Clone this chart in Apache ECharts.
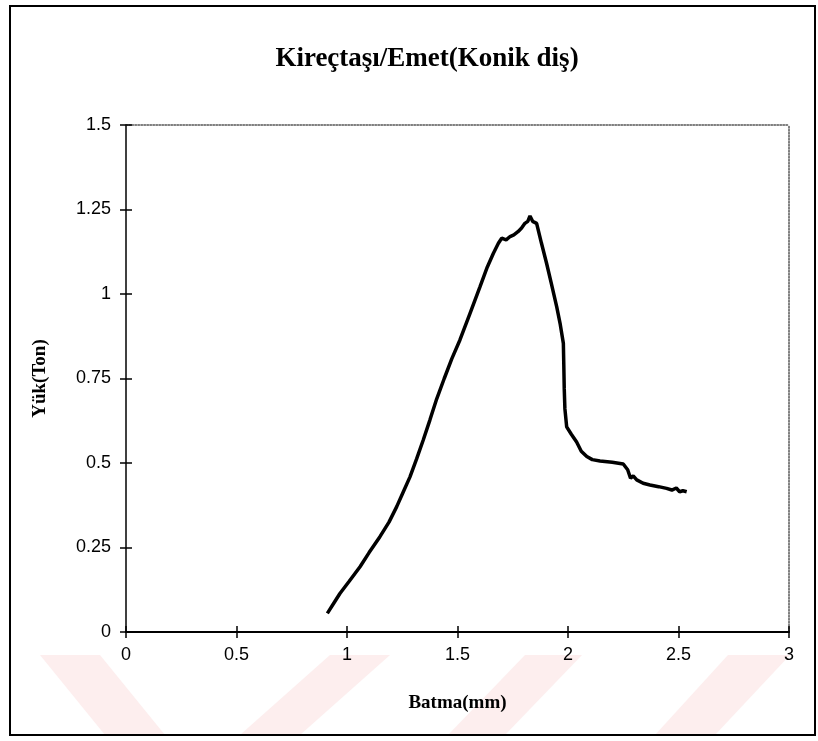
<!DOCTYPE html>
<html>
<head>
<meta charset="utf-8">
<script src="https://cdn.jsdelivr.net/npm/echarts@6/dist/echarts.min.js"></script>
<style>
  html, body { margin: 0; padding: 0; background: #fff; }
  #chart { width: 818px; height: 741px; }
</style>
</head>
<body>
<div id="chart"></div>
<script>
// penetration (mm) vs load (ton)
const batma = [
  0.911, 0.94, 0.968, 1.01, 1.059, 1.10, 1.149, 1.19, 1.225, 1.255,
  1.285, 1.315, 1.345, 1.375, 1.406, 1.44, 1.474, 1.511, 1.555, 1.602,
  1.635, 1.662, 1.685, 1.70, 1.72, 1.738, 1.755, 1.775, 1.79, 1.805,
  1.818, 1.828, 1.84, 1.858, 1.88, 1.903, 1.925, 1.949, 1.965, 1.979,
  1.981, 1.983, 1.986, 1.994, 2.015, 2.039, 2.06, 2.085, 2.11, 2.145,
  2.20, 2.25, 2.27, 2.283, 2.295, 2.311, 2.34, 2.371, 2.41, 2.446,
  2.47, 2.49, 2.505, 2.52, 2.537
];
const yuk = [
  0.055, 0.085, 0.114, 0.15, 0.193, 0.235, 0.282, 0.325, 0.371, 0.415,
  0.459, 0.512, 0.568, 0.627, 0.69, 0.75, 0.808, 0.864, 0.94, 1.022,
  1.08, 1.12, 1.15, 1.165, 1.16, 1.17, 1.175, 1.185, 1.195, 1.209,
  1.215, 1.231, 1.215, 1.209, 1.15, 1.091, 1.03, 0.962, 0.91, 0.854,
  0.79, 0.72, 0.66, 0.607, 0.585, 0.562, 0.535, 0.519, 0.51, 0.506,
  0.502, 0.497, 0.48, 0.455, 0.462, 0.45, 0.44, 0.435, 0.43, 0.425,
  0.42, 0.426, 0.415, 0.418, 0.415
];
const xTicks = [0, 0.5, 1, 1.5, 2, 2.5, 3];
const yTicks = [0, 0.25, 0.5, 0.75, 1, 1.25, 1.5];

const titleText = 'Kireçtaşı/Emet(Konik diş)';
const xName = 'Batma(mm)';
const yName = 'Yük(Ton)';

const chart = echarts.init(document.getElementById('chart'));

const gridBox = { left: 126, right: 29, top: 125, bottom: 109 };
const tickFont = { fontFamily: 'Liberation Sans', fontSize: 18, color: '#000' };
const nameFont = { fontFamily: 'Liberation Serif', fontWeight: 'bold', fontSize: 19, color: '#000' };

function fmt(v) { return String(v); }

// faint pink watermark bands at the bottom of the scan
const pink = '#fdeeee';
const bands = [
  [[40, 655], [100, 655], [165, 735], [105, 735]],
  [[330, 655], [390, 655], [300, 735], [240, 735]],
  [[525, 655], [582, 655], [505, 735], [448, 735]],
  [[728, 655], [790, 655], [715, 735], [655, 735]]
];

const option = {
  animation: false,
  backgroundColor: '#fff',
  title: {
    text: titleText,
    left: 422,
    top: 41,
    textAlign: 'center',
    textStyle: { fontFamily: 'Liberation Serif', fontWeight: 'bold', fontSize: 27, color: '#000' }
  },
  graphic: [
    ...bands.map(b => ({
      type: 'polygon', z: -10, silent: true,
      shape: { points: b },
      style: { fill: pink }
    })),
    {
      type: 'rect', z: 100, silent: true,
      shape: { x: 10, y: 6, width: 805, height: 729 },
      style: { fill: 'none', stroke: '#000', lineWidth: 2 }
    }
  ],
  grid: [
    Object.assign({}, gridBox),
    Object.assign({}, gridBox)
  ],
  xAxis: [
    {
      gridIndex: 0, type: 'value', position: 'bottom',
      min: 0, max: 3, interval: 0.5,
      name: xName, nameLocation: 'middle', nameGap: 62, nameTextStyle: nameFont,
      axisLine: { show: true, onZero: false, lineStyle: { color: '#000', width: 2 } },
      axisTick: { show: true, inside: false, length: 6, lineStyle: { color: '#000', width: 1.5 } },
      axisLabel: Object.assign({ margin: 14, formatter: fmt }, tickFont),
      splitLine: { show: false }
    },
    {
      gridIndex: 0, type: 'value', position: 'top',
      min: 0, max: 3, interval: 0.5,
      axisLine: { show: true, onZero: false, lineStyle: { color: '#555', width: 1.5, type: 'dotted' } },
      axisTick: { show: false }, axisLabel: { show: false }, splitLine: { show: false }
    },
    {
      gridIndex: 1, type: 'value', position: 'bottom',
      min: 0, max: 3, interval: 0.5,
      axisLine: { show: false, onZero: false },
      axisTick: { show: true, inside: true, length: 6, lineStyle: { color: '#000', width: 1.5 } },
      axisLabel: { show: false }, splitLine: { show: false }
    }
  ],
  yAxis: [
    {
      gridIndex: 0, type: 'value', position: 'left',
      min: 0, max: 1.5, interval: 0.25,
      name: yName, nameLocation: 'middle', nameGap: 76, nameTextStyle: nameFont,
      axisLine: { show: true, onZero: false, lineStyle: { color: '#000', width: 1.5 } },
      axisTick: { show: true, inside: false, length: 6, lineStyle: { color: '#000', width: 1.5 } },
      axisLabel: Object.assign({ margin: 15, formatter: fmt }, tickFont),
      splitLine: { show: false }
    },
    {
      gridIndex: 0, type: 'value', position: 'right',
      min: 0, max: 1.5, interval: 0.25,
      axisLine: { show: true, onZero: false, lineStyle: { color: '#555', width: 1.5, type: 'dotted' } },
      axisTick: { show: false }, axisLabel: { show: false }, splitLine: { show: false }
    },
    {
      gridIndex: 1, type: 'value', position: 'left',
      min: 0, max: 1.5, interval: 0.25,
      axisLine: { show: false, onZero: false },
      axisTick: { show: true, inside: true, length: 6, lineStyle: { color: '#000', width: 1.5 } },
      axisLabel: { show: false }, splitLine: { show: false }
    }
  ],
  series: [
    {
      type: 'line',
      xAxisIndex: 0, yAxisIndex: 0,
      data: batma.map((x, i) => [x, yuk[i]]),
      showSymbol: false,
      lineStyle: { color: '#000', width: 3.5 },
      z: 5
    }
  ]
};

chart.setOption(option);
</script>
</body>
</html>
